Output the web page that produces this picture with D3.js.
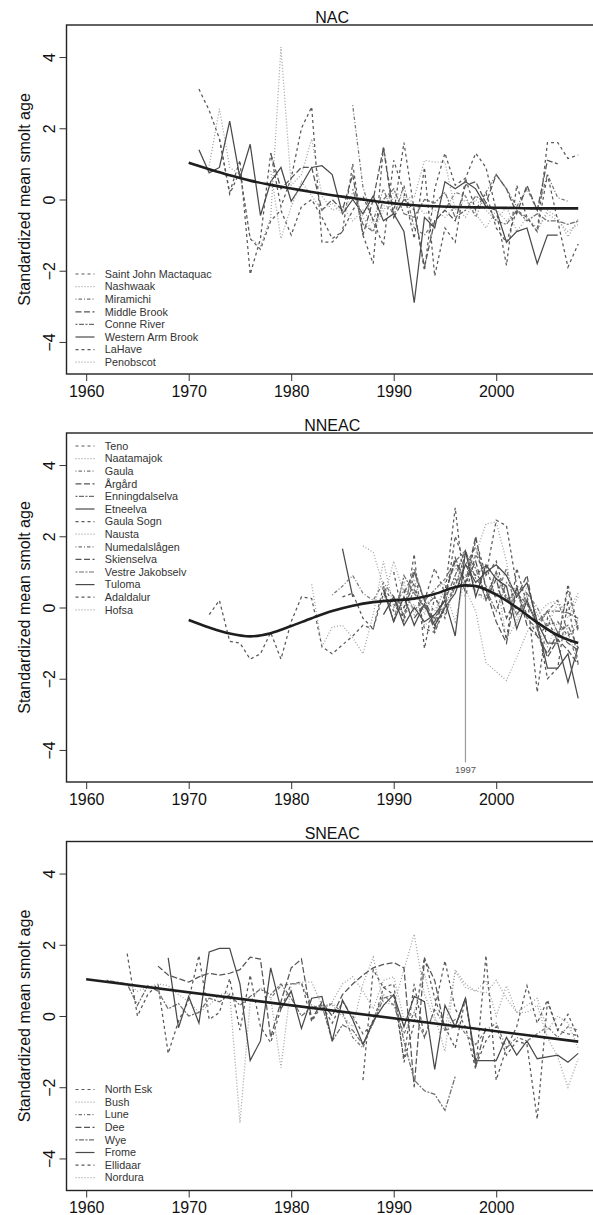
<!DOCTYPE html>
<html>
<head>
  <meta charset="utf-8">
  <title>Standardized mean smolt age</title>
  <script src="https://d3js.org/d3.v7.min.js"></script>
  <style>
    body { margin: 0; background: #fff; }
    text { font-family: "Liberation Sans", Arial, Helvetica, sans-serif; }
  </style>
</head>
<body>
<script>
  // ---- data ----
  const panelTitles = ["NAC", "NNEAC", "SNEAC"];
  const xTicks = [1960, 1970, 1980, 1990, 2000];
  const yTicks = [-4, -2, 0, 2, 4];

  // NAC
  const nacNames = ["Saint John Mactaquac", "Nashwaak", "Miramichi", "Middle Brook",
                    "Conne River", "Western Arm Brook", "LaHave", "Penobscot"];
  const nacStart = [1971, 1972, 1986, 1978, 1986, 1971, 1973, 1978];
  const nacValues = [
    [3.1, 2.5, 1.7, 0.2, 1.1, -2.1, -1.1, 1.3, -0.2, 0.6, 2.0, 2.6, -1.2, -1.2, -0.9, 1.0, -1.0, -1.8, 1.5, -0.4, 1.6, -0.3, -2.0, 0.3, 1.3, 0.4, 0.6, 1.3, 0.9, -0.3, -1.85, 0.4, -0.5, -0.9, 1.6, 1.6, 1.15, 1.25],
    [0.95, 2.55, 0.9, 0.7, -1.1, -1.3, -0.5, 4.28, 0.4, 0.7, 1.7, 0.1, -0.3, -0.2, -0.6, -0.3, -0.7, -0.2, 0.2, 0.1, -0.1, -0.4, -0.3, -0.5, -0.2, -0.5, 0.0, -0.3, -0.6, -0.2, -0.9, -0.5, -0.8, -0.4, -0.6, -0.9, -0.7],
    [2.65, 0.35, -0.6, 0.3, -0.5, 0.4, -0.8, -1.0, -0.6, -0.3, 0.2, 0.1, -0.5, 0.2, 0.7, 0.3, -0.2, 0.3, -0.3, 0.7, 0.05, -0.05],
    [1.3, 0.3, 0.6, 0.9, 0.9, -0.3, 0.0, -0.3, 0.7, -1.0, 0.0, 1.45, -0.5, 0.0, -0.3, -1.9, -0.6, -0.3, -0.6, 0.4, 0.5, -0.1, 0.7, 0.3, -0.4, 0.4, -0.3, 1.1, 1.0],
    [0.3, -0.7, -0.9, 0.0, 0.3, -0.4, -0.5, 0.0, -0.1, 0.2, -0.5, -0.3, 0.1, -0.1, -0.6, -0.7, -0.3, -0.6, -0.4, -0.6, -0.6, -0.7, -0.6],
    [1.4, 0.75, 0.9, 2.2, 0.6, 1.55, -0.45, 0.5, 0.9, -0.05, 0.4, 0.9, 0.95, 0.7, -0.4, 0.0, -0.4, 0.1, -0.6, -0.4, -0.9, -2.9, -0.5, -0.8, 0.5, 0.3, 0.5, 0.3, -0.2, -0.3, -1.2, -0.9, -0.8, -1.8, -1.0, -1.0],
    [1.7, 0.15, 0.8, -1.1, -1.4, -0.6, -0.3, -1.0, -0.2, 0.0, -0.5, -1.1, -0.9, -0.3, 0.1, -0.6, -1.3, 1.1, 0.2, -1.1, 0.9, -2.15, -0.8, -1.2, 0.6, -0.3, 0.2, -0.8, -1.2, -0.3, -0.5, -0.9, 0.7, -0.6, -1.9, -1.25],
    [0.8, -1.1, -0.2, 0.5, 0.1, -0.3, -0.1, -0.4, 0.2, -0.5, -0.9, -0.3, 0.05, 0.05, 0.05, 1.1, 1.05, 1.05, -0.3, 0.0, -0.4, -0.8, -0.3, -0.6, -0.3, -0.5, -0.9, -0.3, -0.5, -1.05, -0.55]
  ];
  const nacTrendYears = [1970, 1972, 1974, 1976, 1978, 1980, 1982, 1984, 1986, 1988, 1990, 1992, 1994, 1996, 1998, 2000, 2002, 2004, 2006, 2008];
  const nacTrend = [1.03, 0.85, 0.68, 0.53, 0.41, 0.31, 0.21, 0.12, 0.04, -0.04, -0.11, -0.16, -0.19, -0.21, -0.22, -0.23, -0.24, -0.25, -0.25, -0.25];

  // NNEAC
  const nneacNames = ["Teno", "Naatamajok", "Gaula", "\u00c5rg\u00e5rd", "Enningdalselva", "Etneelva",
                      "Gaula Sogn", "Nausta", "Numedalsl\u00e5gen", "Skienselva", "Vestre Jakobselv",
                      "Tuloma", "Adaldalur", "Hofsa"];
  const nneacStart = [1972, 1989, 1990, 1991, 1989, 1985, 1990, 1987, 1984, 1992, 1990, 1989, 1985, 1982];
  const nneacValues = [
    [-0.2, 0.2, -0.95, -1.0, -1.45, -1.3, -0.7, -1.45, -0.4, 0.3, 0.25, -1.1, -1.3, -1.05, -0.8, -0.5, -0.6, 0.6, 0.1, -0.3, 1.5, -1.15, 0.3, -0.3, 0.8, 0.5, 1.9, 0.9, 1.3, 0.2, 0.5, -0.2, -0.8, -0.5, -0.4, -0.8, -0.5],
    [0.2, 1.3, 0.4, 0.8, -0.2, 0.5, 0.7, 1.1, 0.9, 0.4, 0.2, 0.9, -0.9, -0.4, 0.6, -0.2, 0.1, 0.2, -0.3, 0.3],
    [0.0, 0.5, -0.1, 0.3, -0.7, 0.1, 0.6, 1.2, 1.7, 0.6, 0.3, 1.1, -0.2, 0.4, 0.0, -0.6, -0.9, 0.5, -0.7],
    [0.4, 1.0, 0.2, -0.4, 0.3, 1.4, 0.7, 1.3, 0.2, 0.8, -0.3, 0.3, 0.9, -0.6, -1.4, -0.9, -1.2, -1.6],
    [0.6, -0.4, 0.9, 0.4, 0.0, -0.3, 0.2, 0.9, 1.6, 0.8, 0.5, -0.1, 0.7, 0.4, 0.1, -0.4, -0.1, -0.1, -0.15, -0.3],
    [1.65, 0.3, null, null, 0.5, -0.4, 0.3, -0.5, 0.1, -0.5, 0.0, 0.4, 1.2, 0.7, 1.0, 1.2, 0.9, 0.3, 0.7, -0.4, -1.0, -1.0, -2.1, -1.1],
    [1.0, -0.4, 1.0, 0.2, 1.1, 0.4, 2.8, 0.3, 1.5, 0.9, 2.45, 2.3, 0.6, 0.4, -2.38, -0.3, -1.0, 0.65, -0.6],
    [1.73, 1.55, 0.6, 0.3, -0.2, 0.1, -0.5, -0.3, 0.7, 1.2, 0.5, -0.1, -1.55, -1.8, -2.05, -1.4, -0.7, -0.2, -0.5, 0.1, -0.1, 0.4],
    [0.35, 0.6, 0.9, 0.4, 0.2, 0.7, 0.3, 0.0, 1.1, 0.2, 0.5, 0.8, 1.3, 1.6, 0.4, 0.3, 1.0, 0.2, 0.4, -0.3, -0.6, -0.1, 0.2, -0.7, -1.6],
    [-0.3, 0.1, -0.6, 0.4, 1.3, 0.7, 2.0, 0.5, -0.4, -1.0, 0.6, -0.5, -0.8, -1.3, -0.7, -1.0, -1.2],
    [0.2, -0.2, 0.5, 0.0, 0.3, -0.2, 0.6, 1.5, 1.1, 0.2, 1.0, 0.3, -0.2, 0.2, -0.5, -0.1, -0.7, -0.5, -1.15],
    [-0.2, 0.3, -0.5, 0.0, -0.4, -0.2, 0.2, -0.8, 1.6, 0.3, 1.2, 0.8, 0.6, -0.6, 0.2, -0.5, -1.7, -1.7, -1.3, -2.55],
    [0.3, 0.4, -0.3, -0.6, 0.4, -0.1, 0.0, 0.7, -0.6, -0.7, 0.0, 2.0, 1.2, 0.9, 1.2, 0.2, -0.9, 1.1, 0.1, -0.4, -2.0, -1.7, 0.2, -1.6],
    [0.65, -1.1, -0.55, -0.5, -0.85, -1.3, -0.2, 1.3, 0.0, 0.7, -0.2, 0.3, -0.1, 0.5, -0.4, 0.9, 1.5, 2.35, 2.4, 1.3, -0.5, 0.3, -0.6, -1.1, -0.4, -0.9, -0.3]
  ];
  const nneacTrendYears = [1970, 1972, 1974, 1976, 1978, 1980, 1982, 1984, 1986, 1988, 1990, 1992, 1994, 1996, 1997, 1998, 2000, 2002, 2004, 2006, 2008];
  const nneacTrend = [-0.35, -0.56, -0.73, -0.81, -0.72, -0.52, -0.3, -0.1, 0.05, 0.15, 0.2, 0.25, 0.38, 0.57, 0.62, 0.6, 0.36, 0.0, -0.42, -0.78, -1.0];
  const nneacMarkYear = 1997;
  const nneacMarkLow = -4.35;

  // SNEAC
  const sneacNames = ["North Esk", "Bush", "Lune", "Dee", "Wye", "Frome", "Ellidaar", "Nordura"];
  const sneacStart = [1964, 1962, 1978, 1967, 1962, 1968, 1987, 1983];
  const sneacValues = [
    [1.75, 0.0, 0.6, 0.9, -1.05, -0.15, 0.45, 1.7, -0.1, 0.1, 1.05, -0.4, 1.15, -0.3, -0.75, 0.2, 0.9, 0.95, -0.15, 0.3, -0.2, 0.4, 0.0, -0.5, -0.2, 0.8, 0.9, -1.3, -0.2, 1.65, 0.5, -0.3, -0.9, 0.5, -1.4, -0.7, -0.3, -1.1, -0.7, -0.8, -2.9, 0.4, -0.4, -0.5, -0.55],
    [1.0, 0.95, 0.9, 0.7, 0.8, 0.9, 0.85, 0.6, 0.4, 0.1, 0.3, 0.6, 0.65, -3.0, 0.4, 0.8, 0.5, -1.45, 0.9, 0.95, 0.95, 0.3, 0.3, 0.0, -0.3, 0.9, 1.65, 0.4, 0.3, 1.3, 2.3, 0.6, -0.1, -0.4, 1.25, 0.8, 0.7, 1.0, 0.0, 0.85, 0.1, 0.1, 0.3, -0.6, -1.15, -2.0, -1.2],
    [0.5, 0.85, 0.9, 0.9, 0.3, 0.2, 0.35, 0.1, -0.6, -0.9, -0.1, 0.6, 0.3, -0.5, 0.1, -0.6, 0.2, -0.3, -0.1, -0.5, -0.8, -0.4, -0.2, -0.9, -0.6, -0.7, -0.5, -0.3, -0.6, -0.3, -0.4],
    [1.4, 1.15, 1.05, 0.95, 1.1, 1.2, 1.15, 1.2, 1.3, 1.65, 1.6, -0.6, 0.4, 1.35, 1.6, -0.1, 0.4, 0.0, 0.6, 0.9, 1.15, 1.35, 1.45, 1.5, 1.35, -2.0, 1.6, 1.0, -0.4, -0.3, 0.5, -1.4, -0.3],
    [1.0, 0.95, 0.9, 0.3, 0.85, 0.7, 0.2, 0.35, 0.0, 0.1, 0.5, 0.4, 0.6, 0.3, 0.55, 0.75, 0.6, 0.9, 0.5, 0.0, 0.25, 0.3, -0.7, -0.25, -0.4, -0.8, -0.2, 0.5, 0.6, -0.7, -1.8, -2.1, -2.2, -2.65, -1.7],
    [1.63, -0.33, 0.55, -0.2, 1.8, 1.9, 1.9, 0.9, -1.25, -0.7, 1.35, 0.2, 0.7, -0.35, 0.5, 0.55, -0.7, 0.45, -0.1, -0.8, -0.15, 0.3, 0.6, -0.3, 0.55, 0.4, -1.5, 0.3, -0.3, 0.5, -1.25, -1.25, -1.25, -0.6, -1.1, -0.7, -1.2, -1.15, -1.1, -1.3, -1.05],
    [-1.8, 1.3, 0.8, 0.6, -1.2, 0.9, -0.6, 0.2, 1.55, 0.2, -0.3, -1.5, 1.7, -1.8, -0.9, -0.3, 0.85, -0.2, 0.45, -0.4, 0.05, -0.6],
    [0.2, 0.4, 0.9, 1.1, 0.7, 0.2, 1.0, 1.1, -0.1, 0.1, 1.2, 0.0, -1.0, 1.3, 0.9, 0.7, 0.65, 1.0, 0.5, 0.1, 0.3, 0.5, -0.4, 0.0, -0.2, -0.9]
  ];
  const sneacTrendYears = [1960, 2008];
  const sneacTrend = [1.03, -0.72];

  // ---- layout ----
  const W = 593, H = 1215;
  const xLeft = 66.5, xRight = 597.9;
  const panelTops = [25, 433, 841.5];
  const panelH = 349;
  const legendTop = [249, 13, 248];
  const legendStep = 12.6;

  // R style line types 2,3,4,5,6,1 cycling
  const ltyCycle = [2, 3, 4, 5, 6, 1];
  const dashes = {1: null, 2: "3,3", 3: "1,2", 4: "1,2,3.5,2", 5: "6,2.5", 6: "2,1.5,5,1.5"};
  const greys = {1: "#4a4a4a", 2: "#585858", 3: "#a0a0a0", 4: "#777", 5: "#555", 6: "#6e6e6e"};

  const x = d3.scaleLinear().domain([1958.08, 2009.92]).range([xLeft, xRight]);
  const y = d3.scaleLinear().domain([-4.9, 4.9]).range([panelH, 0]);

  const svg = d3.select("body").append("svg")
    .attr("width", W).attr("height", H);

  svg.append("defs").append("clipPath").attr("id", "plotclip")
    .append("rect").attr("x", xLeft).attr("y", 0)
    .attr("width", xRight - xLeft).attr("height", panelH);

  const panels = [
    {names: nacNames, start: nacStart, values: nacValues, ty: nacTrendYears, tv: nacTrend, legend: legendTop[0]},
    {names: nneacNames, start: nneacStart, values: nneacValues, ty: nneacTrendYears, tv: nneacTrend, legend: legendTop[1]},
    {names: sneacNames, start: sneacStart, values: sneacValues, ty: sneacTrendYears, tv: sneacTrend, legend: legendTop[2]}
  ];

  const line = d3.line()
    .defined(d => d.v != null)
    .x(d => x(d.year))
    .y(d => y(d.v));

  panels.forEach(function(p, pi) {
    const g = svg.append("g").attr("transform", `translate(0,${panelTops[pi]})`);
    const plot = g.append("g").attr("clip-path", "url(#plotclip)");

    // series
    p.values.forEach(function(vals, i) {
      const lty = ltyCycle[i % 6];
      const pts = vals.map((v, k) => ({year: p.start[i] + k, v: v}));
      plot.append("path")
        .attr("d", line(pts))
        .attr("fill", "none")
        .attr("stroke", greys[lty])
        .attr("stroke-width", 1.25)
        .attr("stroke-dasharray", dashes[lty]);
    });

    // 1997 marker in NNEAC
    if (pi === 1) {
      const k = p.ty.indexOf(nneacMarkYear);
      plot.append("line")
        .attr("x1", x(nneacMarkYear)).attr("x2", x(nneacMarkYear))
        .attr("y1", y(p.tv[k])).attr("y2", y(nneacMarkLow))
        .attr("stroke", "#9a9a9a").attr("stroke-width", 1.2);
      g.append("text")
        .attr("x", x(nneacMarkYear)).attr("y", y(nneacMarkLow) + 10.5)
        .attr("text-anchor", "middle")
        .attr("font-size", 9.5).attr("fill", "#555")
        .text(nneacMarkYear);
    }

    // trend
    const trendPts = p.ty.map((yr, k) => ({year: yr, v: p.tv[k]}));
    plot.append("path")
      .attr("d", d3.line().x(d => x(d.year)).y(d => y(d.v)).curve(d3.curveMonotoneX)(trendPts))
      .attr("fill", "none")
      .attr("stroke", "#1e1e1e")
      .attr("stroke-width", 2.6);

    // box
    g.append("rect")
      .attr("x", xLeft).attr("y", 0)
      .attr("width", xRight - xLeft).attr("height", panelH)
      .attr("fill", "none").attr("stroke", "#222").attr("stroke-width", 1.4);

    // axes
    const xAxis = g.append("g")
      .attr("transform", `translate(0,${panelH})`)
      .call(d3.axisBottom(x).tickValues(xTicks).tickFormat(d3.format("d")).tickSize(7).tickPadding(4.5));
    xAxis.select(".domain").remove();
    xAxis.selectAll("line").attr("stroke", "#333");
    xAxis.selectAll("text").attr("font-size", 16).attr("fill", "#111")
      .style("font-family", "'Liberation Sans', Arial, sans-serif");

    const yAxis = g.append("g")
      .attr("transform", `translate(${xLeft},0)`)
      .call(d3.axisLeft(y).tickValues(yTicks).tickFormat(d3.format("d")).tickSize(7));
    yAxis.select(".domain").remove();
    yAxis.selectAll("line").attr("stroke", "#333");
    yAxis.selectAll("text")
      .attr("x", null).attr("dy", null)
      .attr("text-anchor", "middle")
      .attr("transform", "translate(-11.5,0) rotate(-90)")
      .attr("font-size", 16).attr("fill", "#111")
      .style("font-family", "'Liberation Sans', Arial, sans-serif")
      .text(d => d < 0 ? "\u2212" + Math.abs(d) : d);

    // title and y label
    g.append("text")
      .attr("x", (xLeft + xRight) / 2).attr("y", -2.5)
      .attr("text-anchor", "middle").attr("font-size", 16).attr("fill", "#111")
      .text(panelTitles[pi]);

    g.append("text")
      .attr("transform", `translate(30,${panelH / 2}) rotate(-90)`)
      .attr("text-anchor", "middle").attr("font-size", 16).attr("fill", "#111")
      .text("Standardized mean smolt age");

    // legend
    const leg = g.append("g").attr("transform", `translate(${xLeft},${p.legend})`);
    p.names.forEach(function(name, i) {
      const lty = ltyCycle[i % 6];
      const row = leg.append("g").attr("transform", `translate(0,${i * legendStep})`);
      row.append("line")
        .attr("x1", 9).attr("x2", 28).attr("y1", 0).attr("y2", 0)
        .attr("stroke", greys[lty]).attr("stroke-width", 1.2)
        .attr("stroke-dasharray", dashes[lty]);
      row.append("text")
        .attr("x", 38.3).attr("y", 0).attr("dy", "0.35em")
        .attr("font-size", 10.8).attr("fill", "#333")
        .text(name);
    });
  });
</script>
</body>
</html>
